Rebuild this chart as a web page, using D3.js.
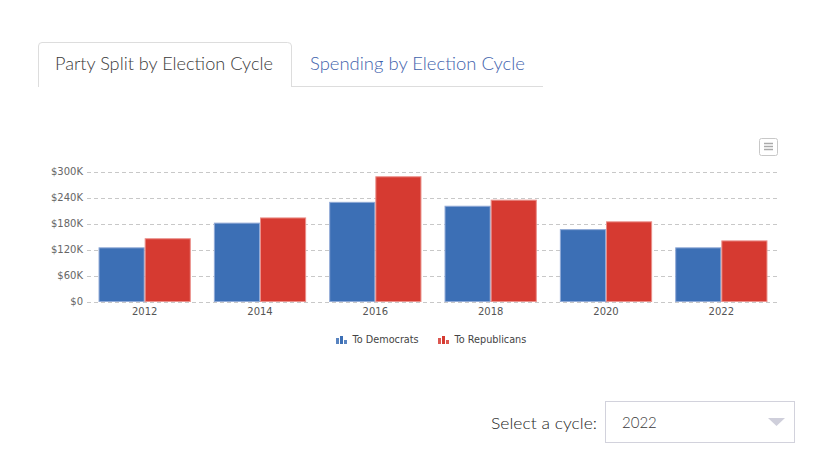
<!DOCTYPE html>
<html>
<head>
<meta charset="utf-8">
<script src="https://cdn.jsdelivr.net/npm/d3@7"></script>
<style>
  body { margin: 0; background: #fff; }
  svg { display: block; }
</style>
</head>
<body>
<svg id="page"></svg>
<script>
// chart values
let cycles = ["2012", "2014", "2016", "2018", "2020", "2022"]
let toDemocrats = [125000, 182000, 230000, 221000, 167000, 125000]
let toRepublicans = [146000, 194000, 289000, 235000, 185000, 141000]
let yTicks = [0, 60000, 120000, 180000, 240000, 300000]
let seriesNames = ["To Democrats", "To Republicans"]
let tabLabels = ["Party Split by Election Cycle", "Spending by Election Cycle"]
let selectedCycle = "2022"

let colors = ["#3c6fb5", "#d63a31"]
let borders = ["#8fa9d6", "#ea8f8a"]
let uiFont = "Lato, 'Open Sans', sans-serif"
let chartFont = "'DejaVu Sans', Verdana, sans-serif"

let width = 821
let height = 451
let svg = d3.select("#page").attr("width", width).attr("height", height)

// Tabs
svg.append("path")
   .attr("d", "M38.5,87 L38.5,46 Q38.5,42.5 42,42.5 L287.5,42.5 Q291.5,42.5 291.5,46 L291.5,87")
   .attr("fill", "#fff")
   .attr("stroke", "#dddddd")
svg.append("line")
   .attr("x1", 291.5).attr("x2", 543)
   .attr("y1", 86.5).attr("y2", 86.5)
   .attr("stroke", "#dddddd")

svg.append("text")
   .attr("x", 55).attr("y", 70)
   .attr("font-family", uiFont).attr("font-size", 17.5)
   .attr("font-weight", 300)
   .attr("fill", "#3a3a3a")
   .attr("textLength", 218).attr("lengthAdjust", "spacingAndGlyphs")
   .text(tabLabels[0])
svg.append("text")
   .attr("x", 310).attr("y", 70)
   .attr("font-family", uiFont).attr("font-size", 17.5)
   .attr("font-weight", 300)
   .attr("fill", "#3f63ad")
   .attr("textLength", 215).attr("lengthAdjust", "spacingAndGlyphs")
   .text(tabLabels[1])

// Chart
let X = d3.scaleBand()
          .domain(cycles)
          .range([87, 779])
          .padding(0)

let S = d3.scaleBand()
          .domain(seriesNames)
          .range([X.bandwidth() * 0.1, X.bandwidth() * 0.9])
          .padding(0)

let Y = d3.scaleLinear()
          .domain([0, 300000])
          .range([301.5, 171.5])

// grid lines
svg.append("g")
   .selectAll("line")
   .data(yTicks)
   .enter()
   .append("line")
   .attr("x1", 87).attr("x2", 779)
   .attr("y1", (d) => Math.round(Y(d)) + 0.5)
   .attr("y2", (d) => Math.round(Y(d)) + 0.5)
   .attr("stroke", "#c8c8c8")
   .attr("stroke-dasharray", "4,3")

// y axis labels
let yaxis = d3.axisLeft(Y)
              .tickValues(yTicks)
              .tickSize(0)
              .tickPadding(0)
              .tickFormat((d) => d === 0 ? "$0" : "$" + (d / 1000) + "K")
let yg = svg.append("g")
            .attr("transform", "translate(83,0)")
            .call(yaxis)
yg.select(".domain").remove()
yg.selectAll("text")
  .attr("font-family", chartFont)
  .attr("font-size", 10)
  .attr("fill", "#666")

// x axis labels
let xaxis = d3.axisBottom(X).tickSize(0).tickPadding(0)
let xg = svg.append("g")
            .attr("transform", "translate(0,308)")
            .call(xaxis)
xg.select(".domain").remove()
xg.selectAll("text")
  .attr("font-family", chartFont)
  .attr("font-size", 10)
  .attr("fill", "#555")

// bars
let series = [toDemocrats, toRepublicans]
series.forEach((values, i) => {
    svg.append("g")
       .selectAll("rect")
       .data(values)
       .enter()
       .append("rect")
       .attr("x", (d, j) => X(cycles[j]) + S(seriesNames[i]) + 0.5)
       .attr("y", (d) => Y(d) + 0.5)
       .attr("width", S.bandwidth() - 1)
       .attr("height", (d) => Y(0) - Y(d) - 0.5)
       .attr("fill", colors[i])
       .attr("stroke", borders[i])
       .attr("stroke-width", 1)
})

// legend
let legendX = [336, 438]
seriesNames.forEach((name, i) => {
    let g = svg.append("g").attr("transform", "translate(" + legendX[i] + ",336)")
    let iconBars = [[0, 2, 6], [4, 0, 8], [8, 4, 4]]
    g.selectAll("rect")
     .data(iconBars)
     .enter()
     .append("rect")
     .attr("x", (d) => d[0])
     .attr("y", (d) => d[1])
     .attr("width", 3)
     .attr("height", (d) => d[2])
     .attr("fill", colors[i])
     .attr("opacity", (d, k) => k === 1 ? 1 : 0.85)
    g.append("text")
     .attr("x", 16.5)
     .attr("y", 3.5)
     .attr("dy", "0.35em")
     .attr("font-family", chartFont)
     .attr("font-size", 9.7)
     .attr("fill", "#444")
     .text(name)
})

// context menu button
svg.append("rect")
   .attr("x", 759.5).attr("y", 138.5)
   .attr("width", 18).attr("height", 17)
   .attr("rx", 2)
   .attr("fill", "#fff")
   .attr("stroke", "#c8c8c8")
svg.append("g")
   .selectAll("line")
   .data([143.5, 146.5, 149.5])
   .enter()
   .append("line")
   .attr("x1", 764).attr("x2", 773)
   .attr("y1", (d) => d).attr("y2", (d) => d)
   .attr("stroke", "#aaa")
   .attr("stroke-width", 1.5)

// cycle selector
svg.append("text")
   .attr("x", 491).attr("y", 423)
   .attr("dy", "0.35em")
   .attr("font-family", uiFont).attr("font-size", 16)
   .attr("font-weight", 300)
   .attr("fill", "#1e1e1e")
   .attr("textLength", 106).attr("lengthAdjust", "spacingAndGlyphs")
   .text("Select a cycle:")
svg.append("rect")
   .attr("x", 605.5).attr("y", 401.5)
   .attr("width", 189).attr("height", 41)
   .attr("fill", "#fff")
   .attr("stroke", "#d2d2dc")
svg.append("text")
   .attr("x", 622).attr("y", 423)
   .attr("dy", "0.35em")
   .attr("font-family", uiFont).attr("font-size", 15)
   .attr("font-weight", 300)
   .attr("fill", "#3a3a3a")
   .text(selectedCycle)
svg.append("path")
   .attr("d", "M768,418 L785,418 L776.5,426 Z")
   .attr("fill", "#cfcfdb")
</script>
</body>
</html>
